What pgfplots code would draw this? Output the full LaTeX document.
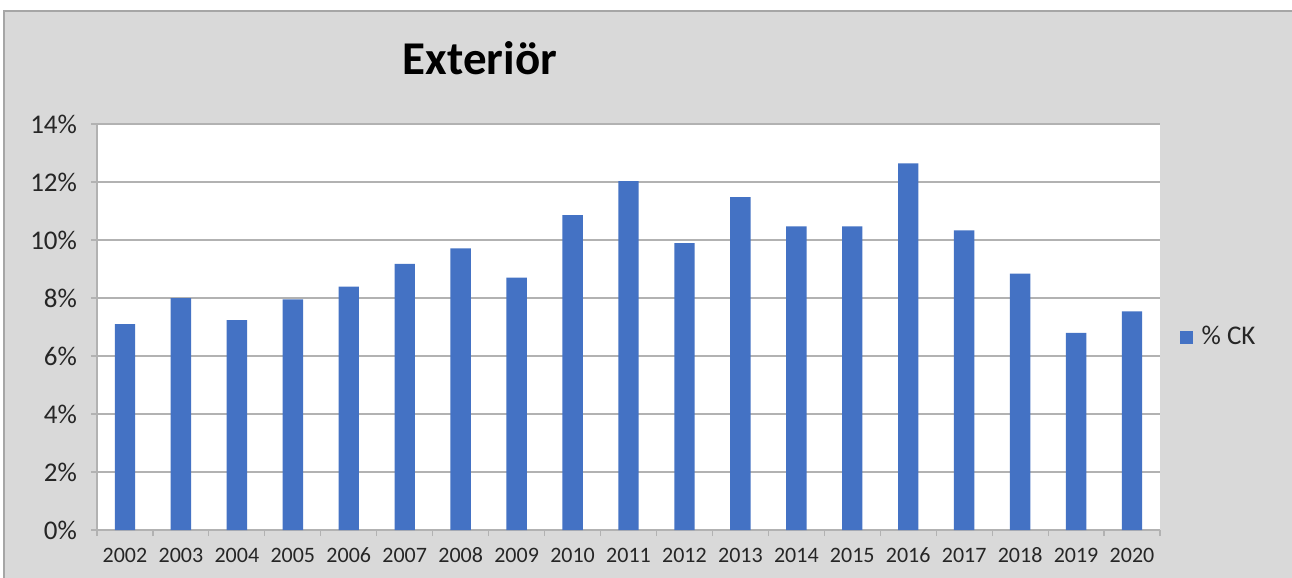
\documentclass[border=0pt]{standalone}
\usepackage{fontspec}
\setmainfont{Carlito}
\usepackage{pgfplots}
\pgfplotsset{compat=1.18}
\definecolor{barblue}{HTML}{4472C4}
\definecolor{bggray}{HTML}{D9D9D9}
\definecolor{gridgray}{HTML}{B2B2B2}
\definecolor{framegray}{HTML}{A6A6A6}
\begin{document}
\begin{tikzpicture}
\begin{scope}[x=0.5pt,y=-0.5pt]
\useasboundingbox (0,0) rectangle (1292,578);
\fill[white] (0,0) rectangle (1292,578);
\fill[bggray] (4,11) rectangle (1292,578);
\draw[framegray,line width=0.8pt] (4,578) -- (4,11) -- (1292,11);
\node[font=\fontsize{23.5}{27}\selectfont\bfseries, anchor=base] at (480,74) {Exteriör};
\coordinate (axorigin) at (97,530);
\end{scope}
\begin{axis}[
  at={(axorigin)}, anchor=south west,
  scale only axis,
  width=531.5pt, height=203pt,
  ymin=0, ymax=0.14,
  xmin=-0.5, xmax=18.5,
  ytick={0,0.02,0.04,0.06,0.08,0.10,0.12,0.14},
  yticklabels={0\%,2\%,4\%,6\%,8\%,10\%,12\%,14\%},
  xtick={0,...,18},
  xticklabels={2002,2003,2004,2005,2006,2007,2008,2009,2010,2011,2012,2013,2014,2015,2016,2017,2018,2019,2020},
  minor xtick={-0.5,0.5,...,18.5},
  major x tick style={draw=none},
  minor tick length=3pt,
  major tick length=3pt,
  tick align=outside,
  tick style={gridgray, line width=0.6pt},
  axis x line*=bottom, axis y line*=left,
  axis line style={gridgray, line width=0.8pt, -},
  ymajorgrids, grid style={gridgray, line width=0.8pt},
  axis background/.style={fill=white},
  xticklabel style={font=\fontsize{11}{12}\selectfont, text=black!85, yshift=-2pt,
    text height=7.5pt, text depth=0pt},
  yticklabel style={font=\fontsize{13.5}{15}\selectfont, text=black!85, xshift=-3.5pt},
  legend style={at={(1.0125,0.475)}, anchor=west, draw=none, fill=none,
    font=\fontsize{13.5}{15}\selectfont, text=black!85},
  legend image code/.code={\fill[barblue] (0pt,-3.25pt) rectangle (6.5pt,3.25pt);},
  clip=false,
]
\addplot[ybar, bar width=10.2pt, bar shift=0pt, fill=barblue, draw=none] coordinates {
(0,0.0710) (1,0.0800) (2,0.0724) (3,0.0795) (4,0.0839) (5,0.0918) (6,0.0971)
(7,0.0870) (8,0.1086) (9,0.1203) (10,0.0989) (11,0.1148) (12,0.1047) (13,0.1047)
(14,0.1264) (15,0.1033) (16,0.0884) (17,0.0680) (18,0.0754)
};
\addlegendentry{\hspace{2.5pt}\% CK}
\end{axis}
\end{tikzpicture}
\end{document}
